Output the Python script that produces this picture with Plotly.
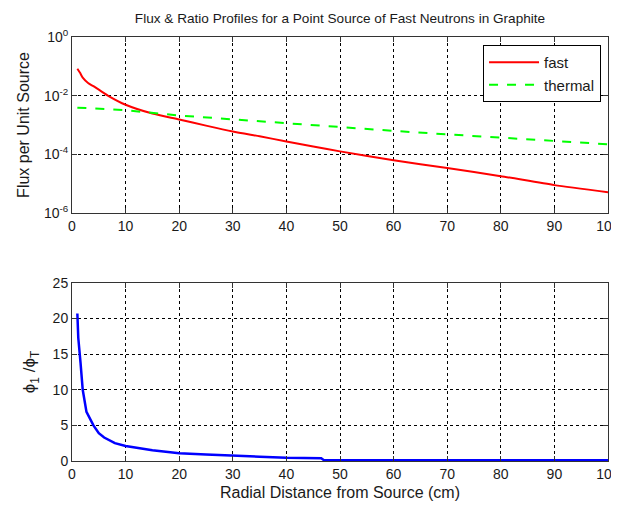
import plotly.graph_objects as go

# Radial distance (cm)
r_fast = [1, 1.5, 2, 3, 4, 5, 7, 10, 15, 20, 25, 30, 35, 40, 45, 50, 60, 70, 80, 90, 100]
fast = [0.083, 0.06, 0.041, 0.027, 0.021, 0.016, 0.0093, 0.0049, 0.00245, 0.00155, 9.5e-4,
        6.0e-4, 4.1e-4, 2.75e-4, 1.86e-4, 1.26e-4, 6.3e-5, 3.4e-5, 1.8e-5, 8.9e-6, 5.1e-6]

r_th = [1, 10, 20, 30, 40, 50, 60, 70, 80, 90, 100]
thermal = [3.9e-3, 3.2e-3, 2.1e-3, 1.55e-3, 1.12e-3, 8.3e-4, 6.3e-4, 4.8e-4, 3.7e-4, 2.75e-4, 2.2e-4]

r_ratio = [1, 1.17, 1.6, 2.0, 2.7, 4, 5, 6, 8, 10, 15, 20, 25, 30, 35, 40, 46.5, 47, 60, 80, 100]
ratio = [20.7, 17.3, 13.7, 10.0, 6.9, 5.0, 3.9, 3.3, 2.5, 2.1, 1.5, 1.1, 0.9, 0.8, 0.6, 0.45, 0.4,
         0.12, 0.12, 0.12, 0.12]

x_ticks = [0, 10, 20, 30, 40, 50, 60, 70, 80, 90, 100]
log_tickvals = [1, 1e-2, 1e-4, 1e-6]
log_ticktext = ["10<sup>0</sup>", "10<sup>-2</sup>", "10<sup>-4</sup>", "10<sup>-6</sup>"]
ratio_ticks = [0, 5, 10, 15, 20, 25]

FONT = "Liberation Sans, Arial, sans-serif"
TXT = "#1a1a1a"

# page body has an 8px margin, so the figure is drawn 8px in from the top-left
W, H = 611, 497

fig = go.Figure()
fig.add_trace(go.Scatter(x=r_fast, y=fast, mode="lines", name="fast",
                         line=dict(color="#ff0000", width=2, shape="spline", smoothing=0.6),
                         xaxis="x", yaxis="y"))
fig.add_trace(go.Scatter(x=r_th, y=thermal, mode="lines", name="thermal",
                         line=dict(color="#00ff00", width=2, dash="dash"), xaxis="x", yaxis="y"))
fig.add_trace(go.Scatter(x=r_ratio, y=ratio, mode="lines", name="ratio", showlegend=False,
                         line=dict(color="#0000ff", width=2.5), xaxis="x2", yaxis="y2"))

grid = dict(showgrid=True, gridcolor="black", gridwidth=1, griddash="3px,3px",
            showline=True, linecolor="#333333", linewidth=1, mirror="ticks",
            ticks="inside", ticklen=5, tickcolor="#333333", zeroline=False,
            automargin=False, ticklabeloverflow="allow",
            tickfont=dict(size=14, color=TXT, family=FONT))

fig.update_layout(
    width=W, height=H,
    margin=dict(l=64, r=11, t=29, b=44),
    paper_bgcolor="white", plot_bgcolor="white",
    font=dict(family=FONT, size=13, color=TXT),
    title=dict(text="Flux & Ratio Profiles for a Point Source of Fast Neutrons in Graphite",
               x=332 / W, xanchor="center", y=1 - 10 / H, yanchor="middle",
               font=dict(size=13.6, family=FONT, color=TXT)),
    xaxis=dict(domain=[0, 1], range=[0, 100], tickvals=x_ticks, anchor="y", **grid),
    yaxis=dict(domain=[0.585, 1], type="log", range=[-6, 0], tickvals=log_tickvals,
               ticktext=log_ticktext, anchor="x",
               title=dict(text="Flux per Unit Source", font=dict(size=16), standoff=10), **grid),
    xaxis2=dict(domain=[0, 1], range=[0, 100], tickvals=x_ticks, anchor="y2",
                title=dict(text="Radial Distance from Source (cm)", font=dict(size=16), standoff=6),
                **grid),
    yaxis2=dict(domain=[0, 0.42], range=[0, 25], tickvals=ratio_ticks, anchor="x2",
                title=dict(text="ϕ<sub>1</sub> /ϕ<sub>T</sub>", font=dict(size=17), standoff=12),
                **grid),
    legend=dict(x=0.987, y=0.981, xanchor="right", yanchor="top",
                bgcolor="white", bordercolor="black", borderwidth=1, itemwidth=50,
                font=dict(size=15, family=FONT), tracegroupgap=2),
)

fig.write_html("out.html")
